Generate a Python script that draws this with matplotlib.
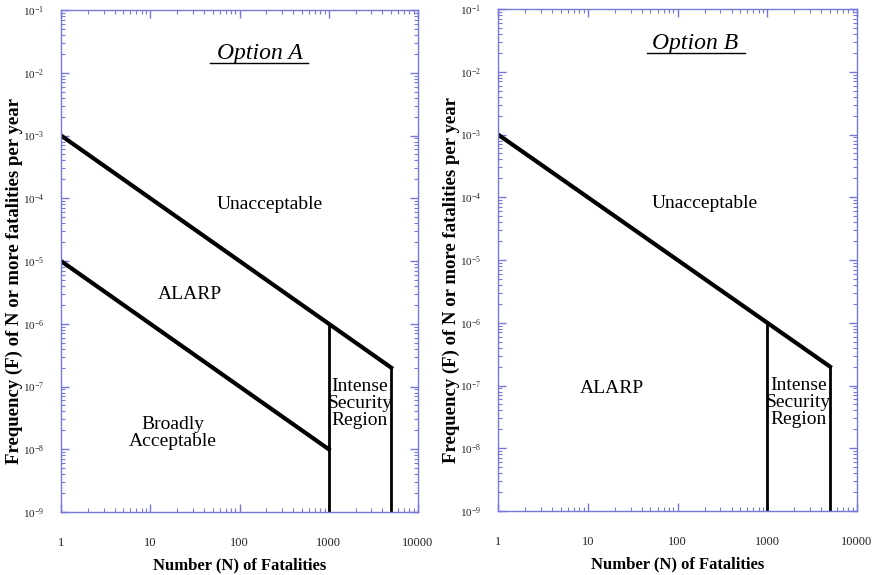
import numpy as np
import matplotlib.pyplot as plt
from matplotlib.ticker import FixedLocator, FixedFormatter, LogFormatterSciNotation

plt.rcParams['font.family'] = ['Liberation Serif', 'DejaVu Serif']
plt.rcParams['mathtext.fontset'] = 'stix'

# Données des critères F-N
upper_N = [1, 1000, 5000]
upper_F = [1e-3, 1e-6, 2e-7]
lower_N = [1, 1000]
lower_F = [1e-5, 1e-8]
wall_N = [1000, 5000]
wall_top_F = [1e-6, 2e-7]
floor_F = 1e-9

x_ticks = [1, 10, 100, 1000, 10000]
x_labels = ['1', '10', '100', '1000', '10000']
y_exponents = list(range(-9, 0))

frame_color = '#7777d8'

fig = plt.figure(figsize=(8.75, 5.75), dpi=100)
ax_a = fig.add_axes([61 / 875, 1 - 512 / 575, 357 / 875, 502 / 575])
ax_b = fig.add_axes([498 / 875, 1 - 511 / 575, 359 / 875, 502 / 575])

y_major = [10.0 ** e for e in y_exponents]
y_minor = [m * 10.0 ** e for e in y_exponents[:-1] for m in range(2, 10)]
x_minor = [m * 10.0 ** e for e in range(0, 4) for m in range(2, 10)]


def setup_axes(ax, title, tx, ty, ux0, ux1, uy):
    ax.set_xscale('log')
    ax.set_yscale('log')
    ax.set_xlim(1, 10000)
    ax.set_ylim(1e-9, 1e-1)
    for sp in ax.spines.values():
        sp.set_color(frame_color)
        sp.set_linewidth(1.0)
    ax.xaxis.set_major_locator(FixedLocator(x_ticks))
    ax.xaxis.set_major_formatter(FixedFormatter(x_labels))
    ax.xaxis.set_minor_locator(FixedLocator(x_minor))
    ax.xaxis.set_minor_formatter(FixedFormatter([]))
    ax.yaxis.set_major_locator(FixedLocator(y_major))
    ax.yaxis.set_major_formatter(LogFormatterSciNotation())
    ax.yaxis.set_minor_locator(FixedLocator(y_minor))
    ax.yaxis.set_minor_formatter(FixedFormatter([]))
    ax.tick_params(which='both', direction='in', top=True, right=True, color=frame_color, labelcolor='#222222')
    ax.tick_params(which='major', length=6, width=1)
    ax.tick_params(which='minor', length=3, width=0.8)
    ax.tick_params(axis='x', which='major', labelsize=9, pad=18)
    ax.tick_params(axis='y', which='major', labelsize=8, pad=12)
    ax.set_xlabel('Number (N) of Fatalities', fontsize=12, fontweight='bold', labelpad=6)
    ax.set_ylabel('Frequency (F) of N or more fatalities per year', fontsize=13.5,
                  fontweight='bold')
    ax.yaxis.set_label_coords(-0.106, 0.46)
    # Titre en italique souligné
    ax.text(tx, ty, title, transform=ax.transAxes, ha='center', va='baseline',
            fontsize=17, fontstyle='italic')
    ax.plot([ux0, ux1], [uy, uy], transform=ax.transAxes, color='black', lw=1.0)


def draw_walls(ax):
    ax.plot(upper_N, upper_F, color='black', lw=3, solid_joinstyle='miter')
    for n, f in zip(wall_N, wall_top_F):
        ax.plot([n, n], [f, floor_F], color='black', lw=2)
    ax.text(2236, 10 ** -7.27, 'Intense\nSecurity\nRegion', ha='center', va='center',
            fontsize=14, linespacing=1.0)


setup_axes(ax_a, 'Option A', 0.556, 0.903, 0.417, 0.692, 0.894)
draw_walls(ax_a)
ax_a.plot(lower_N, lower_F, color='black', lw=3)
ax_a.text(220, 10 ** -4.1, 'Unacceptable', ha='center', va='center', fontsize=14)
ax_a.text(28, 10 ** -5.54, 'ALARP', ha='center', va='center', fontsize=14)
ax_a.text(18, 10 ** -7.74, 'Broadly\nAcceptable', ha='center', va='center', fontsize=14, linespacing=1.0)

setup_axes(ax_b, 'Option B', 0.548, 0.921, 0.415, 0.688, 0.912)
draw_walls(ax_b)
ax_b.text(200, 10 ** -4.1, 'Unacceptable', ha='center', va='center', fontsize=14)
ax_b.text(18.6, 10 ** -7.05, 'ALARP', ha='center', va='center', fontsize=14)

fig.savefig('out.png', dpi=100)
